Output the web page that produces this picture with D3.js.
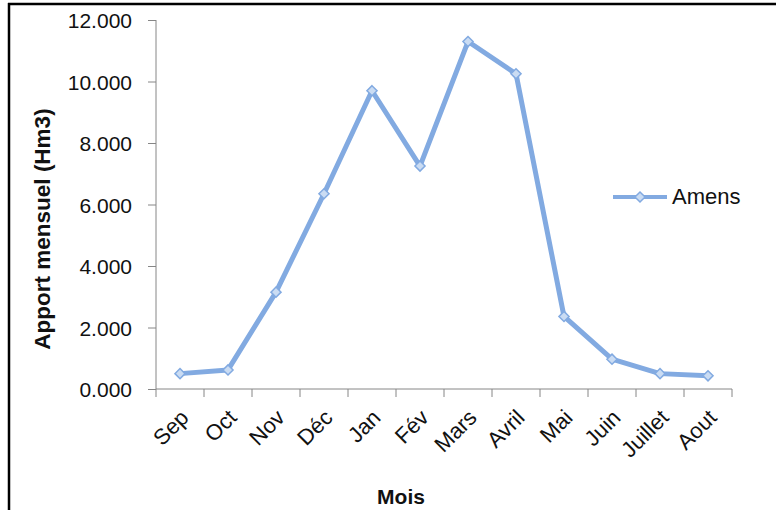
<!DOCTYPE html>
<html>
<head>
<meta charset="utf-8">
<script src="https://cdn.jsdelivr.net/npm/d3@7"></script>
<style>
  html, body { margin: 0; padding: 0; background: #fff; }
  svg { display: block; }
  text { font-family: "Liberation Sans", Arial, sans-serif; fill: #111; }
</style>
</head>
<body>
<svg id="chart" width="776" height="510"></svg>
<script>
// Monthly inflow (Hm3) for the Amens series
const months = ["Sep", "Oct", "Nov", "Déc", "Jan", "Fév", "Mars", "Avril", "Mai", "Juin", "Juillet", "Aout"];
const amens = [0.50, 0.62, 3.15, 6.35, 9.70, 7.25, 11.30, 10.25, 2.36, 0.97, 0.50, 0.43];
const yTicks = [0, 2, 4, 6, 8, 10, 12];
const seriesName = "Amens";
const yTitle = "Apport mensuel (Hm3)";
const xTitle = "Mois";

const svg = d3.select("#chart");
const lineColor = "#82AAE1";
const axisColor = "#868686";

// frame
svg.append("line").attr("x1", 8).attr("x2", 776).attr("y1", 4).attr("y2", 4)
  .attr("stroke", "#000").attr("stroke-width", 2.5);
svg.append("line").attr("x1", 9).attr("x2", 9).attr("y1", 3).attr("y2", 510)
  .attr("stroke", "#000").attr("stroke-width", 2.5);

const x = d3.scaleBand().domain(months).range([156, 732]);
const y = d3.scaleLinear().domain([0, 12]).range([389, 20]);

// y axis
const yAxis = svg.append("g").attr("transform", "translate(156,0)")
  .call(d3.axisLeft(y).tickValues(yTicks).tickSize(8).tickPadding(16)
    .tickFormat(d => d3.format(".3f")(d)));
yAxis.select(".domain").attr("stroke", axisColor).attr("d", "M0,20V389");
yAxis.selectAll(".tick line").attr("stroke", axisColor);
yAxis.selectAll(".tick text").attr("font-size", 21).attr("fill", "#111")
  .attr("font-family", "Liberation Sans, Arial, sans-serif").attr("dy", "0.36em");

// x axis with ticks between categories
const xAxis = svg.append("g").attr("transform", "translate(0,389)");
xAxis.append("line").attr("x1", 156).attr("x2", 732).attr("stroke", axisColor);
const edges = months.map(m => x(m)).concat([x.range()[1]]);
xAxis.selectAll("line.tk").data(edges).join("line").attr("class", "tk")
  .attr("x1", d => d).attr("x2", d => d).attr("y1", 0).attr("y2", 8)
  .attr("stroke", axisColor);
xAxis.selectAll("text.lbl").data(months).join("text").attr("class", "lbl")
  .attr("text-anchor", "end").attr("font-size", 22)
  .attr("transform", d => `translate(${x(d) + x.bandwidth() / 2 + 10},${30}) rotate(-45)`)
  .text(d => d);

// axis titles
svg.append("text").attr("font-weight", "bold").attr("font-size", 22.5)
  .attr("text-anchor", "middle")
  .attr("transform", "translate(50,229) rotate(-90)").text(yTitle);
svg.append("text").attr("font-weight", "bold").attr("font-size", 21)
  .attr("text-anchor", "middle").attr("x", 401).attr("y", 504).text(xTitle);

// series line
const line = d3.line().x((d, i) => x(months[i]) + x.bandwidth() / 2).y(d => y(d));
svg.append("path").datum(amens).attr("d", line).attr("fill", "none")
  .attr("stroke", lineColor).attr("stroke-width", 5).attr("stroke-linejoin", "round");

const diamond = d3.symbol().type(d3.symbolDiamond2).size(65);
svg.selectAll("path.mk").data(amens).join("path").attr("class", "mk")
  .attr("d", diamond)
  .attr("transform", (d, i) => `translate(${x(months[i]) + x.bandwidth() / 2},${y(d)})`)
  .attr("fill", "#CADCF3").attr("stroke", lineColor).attr("stroke-width", 1.5);

// legend
const lg = svg.append("g").attr("transform", "translate(613,197)");
lg.append("line").attr("x1", 0).attr("x2", 54).attr("stroke", lineColor).attr("stroke-width", 4);
lg.append("path").attr("d", diamond).attr("transform", "translate(27,0)")
  .attr("fill", "#CADCF3").attr("stroke", lineColor).attr("stroke-width", 1.5);
lg.append("text").attr("x", 59).attr("y", 7).attr("font-size", 22).text(seriesName);
</script>
</body>
</html>
